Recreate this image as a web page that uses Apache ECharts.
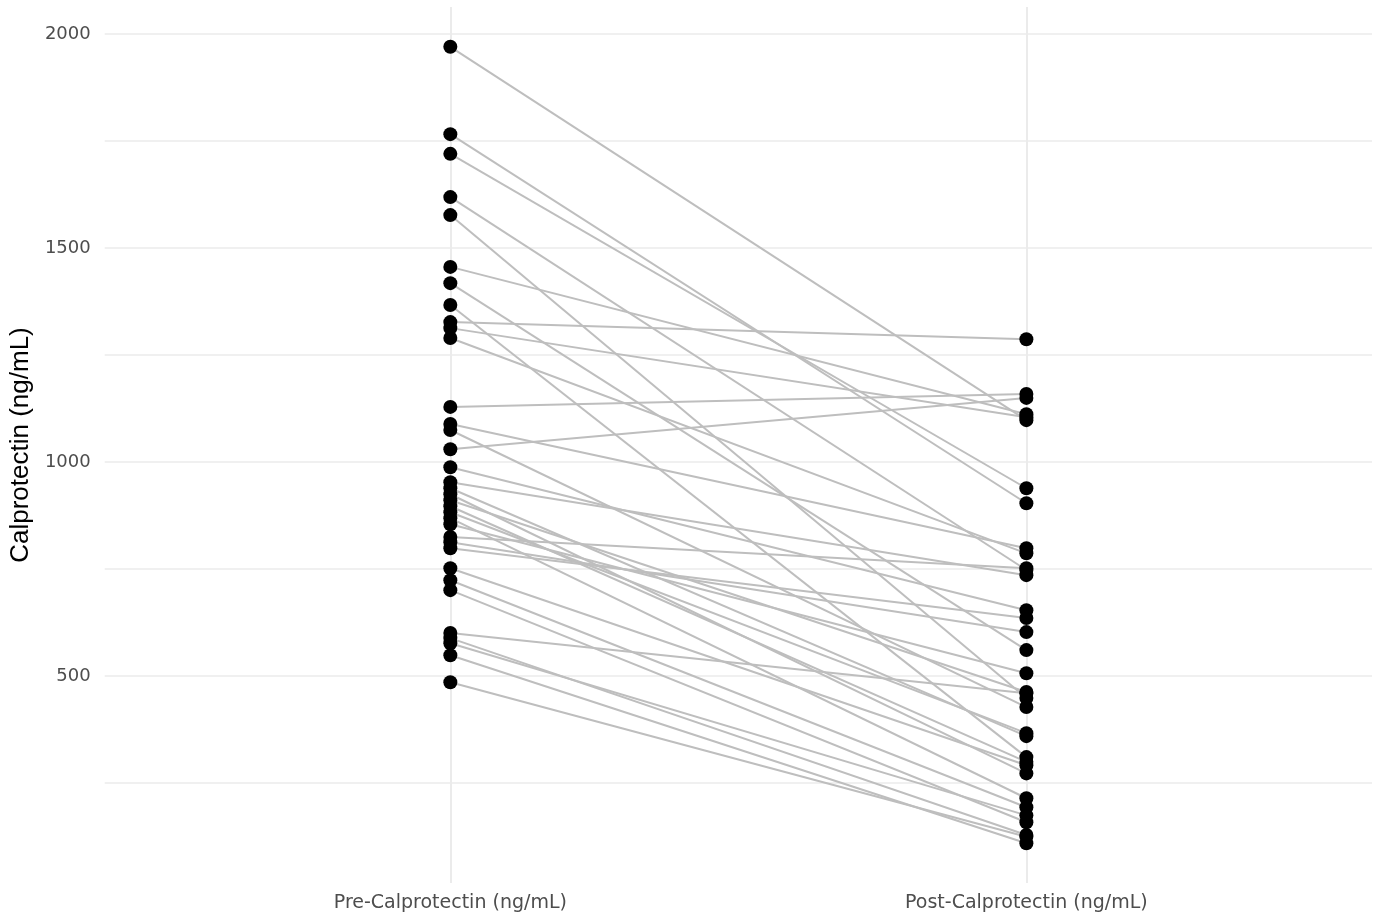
<!DOCTYPE html>
<html>
<head>
<meta charset="utf-8">
<script src="https://cdn.jsdelivr.net/npm/echarts@6/dist/echarts.min.js"></script>
<style>
  html, body { margin: 0; padding: 0; background: #fff; }
  #chart { width: 1390px; height: 922px; }
</style>
</head>
<body>
<div id="chart"></div>
<script>
const groups = ['Pre-Calprotectin (ng/mL)', 'Post-Calprotectin (ng/mL)'];
const preValues = [1970, 1766, 1720, 1619, 1577, 1456, 1418, 1367, 1327, 1313, 1290,
  1129, 1089, 1075, 1030, 988, 953, 939, 925, 911, 897, 883, 869, 855,
  825, 813, 799, 752, 724, 701, 601, 589, 577, 549, 486];
const postValues = [1098, 904, 939, 748, 449, 1112, 561, 311, 1287, 1105, 787,
  1159, 799, 428, 1150, 654, 736, 360, 273, 463, 300, 367, 215, 507,
  752, 603, 636, 292, 194, 159, 460, 129, 175, 110, 125];
const yMajor = [500, 1000, 1500, 2000];
const yAll = [250, 500, 750, 1000, 1250, 1500, 1750, 2000];

const chart = echarts.init(document.getElementById('chart'));

let pairLines = preValues.map((v, i) => ({ coords: [[1, v], [2, postValues[i]]] }));
let dots = [];
preValues.forEach(v => dots.push([1, v]));
postValues.forEach(v => dots.push([2, v]));

const tickFont = 'DejaVu Sans, sans-serif';

chart.setOption({
  animation: false,
  backgroundColor: '#fff',
  grid: { left: 103, right: 18, top: 7, bottom: 39 },
  xAxis: {
    type: 'value',
    min: 0.4,
    max: 2.6,
    axisLine: { show: false },
    axisTick: { show: false, customValues: [1, 2] },
    axisLabel: {
      customValues: [1, 2],
      formatter: v => groups[Math.round(v) - 1] || '',
      color: '#4d4d4d',
      fontSize: 19,
      fontFamily: tickFont,
      margin: 11
    },
    splitLine: { show: true, lineStyle: { color: '#ebebeb', width: 2 } }
  },
  yAxis: {
    type: 'value',
    min: 17,
    max: 2063,
    name: 'Calprotectin (ng/mL)',
    nameLocation: 'middle',
    nameGap: 68,
    nameTextStyle: { color: '#000', fontSize: 26, fontFamily: 'Liberation Sans, Arial, sans-serif' },
    axisLine: { show: false },
    axisTick: { show: false, customValues: yAll },
    axisLabel: {
      customValues: yMajor,
      formatter: v => String(v),
      color: '#4d4d4d',
      fontSize: 18,
      fontFamily: tickFont,
      margin: 14
    },
    splitLine: { show: true, lineStyle: { color: '#ebebeb', width: 1.5 } }
  },
  series: [
    {
      type: 'lines',
      coordinateSystem: 'cartesian2d',
      data: pairLines,
      lineStyle: { color: '#bebebe', width: 2, opacity: 1 },
      z: 2
    },
    {
      type: 'scatter',
      data: dots,
      symbolSize: 14,
      itemStyle: { color: '#000', opacity: 1 },
      z: 3
    }
  ]
});
</script>
</body>
</html>
